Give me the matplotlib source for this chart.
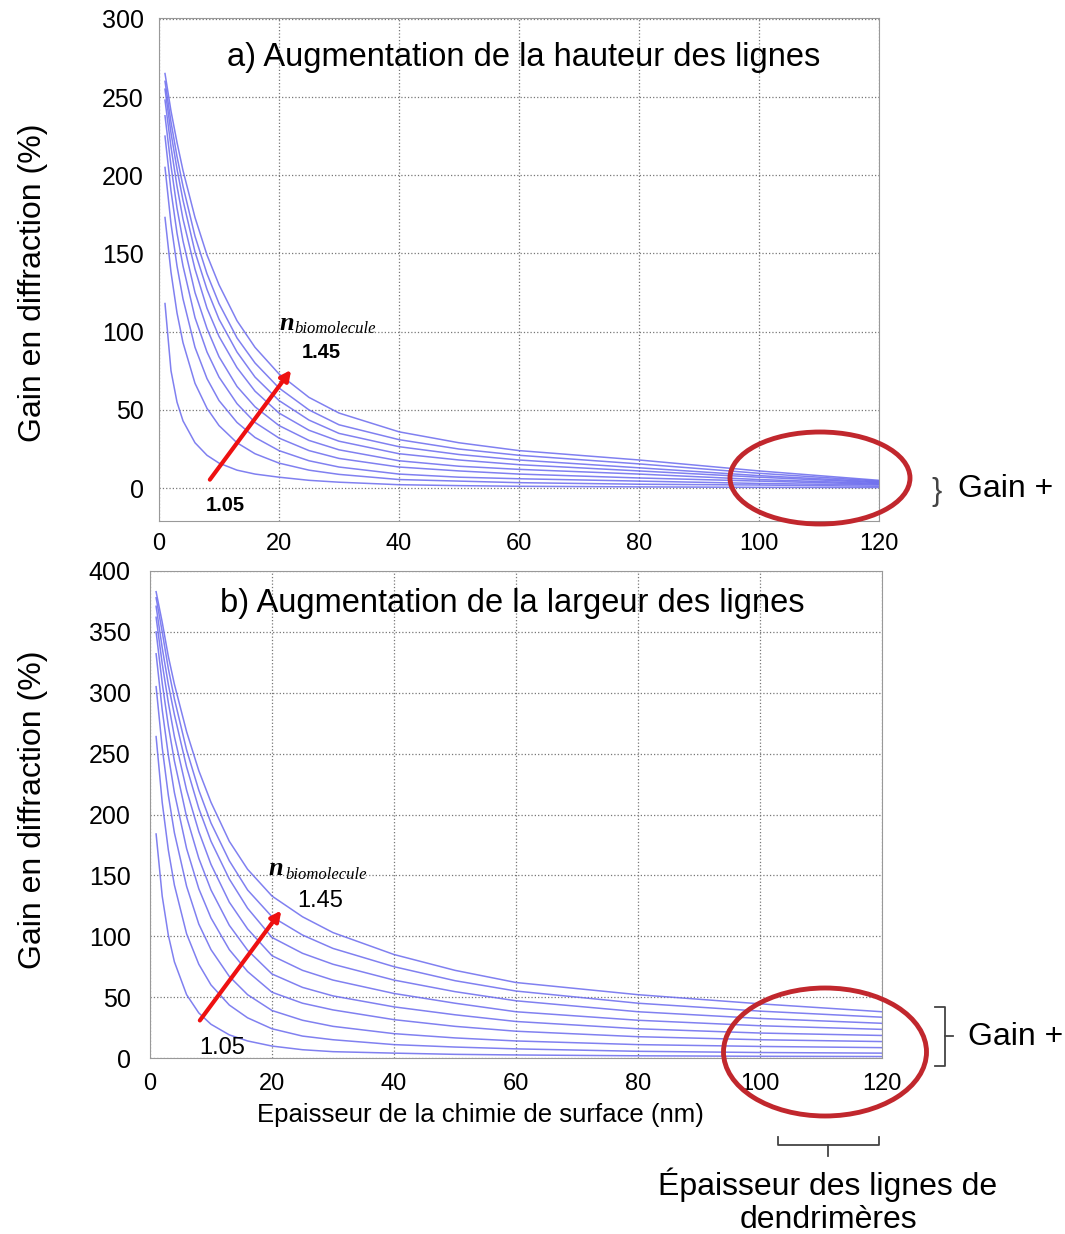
import numpy as np
import matplotlib
matplotlib.use("Agg")
import matplotlib.pyplot as plt
from matplotlib.patches import Ellipse
from matplotlib.lines import Line2D

plt.rcParams['font.family'] = ['Liberation Sans', 'DejaVu Sans']

# thickness of the surface chemistry (nm)
x_nm = [1, 2, 3, 4, 6, 8, 10, 13, 16, 20, 25, 30, 40, 50, 60, 80, 100, 120]
n_bio = [1.05, 1.10, 1.15, 1.20, 1.25, 1.30, 1.35, 1.40, 1.45]

# a) line height increase - gain (%) per refractive index
gain_a_105 = [118, 75, 55, 43, 29, 21, 16, 11.5, 9, 7, 5, 3.8, 2.2, 1.6, 1.2, 0.8, 0.5, 0.4]
gain_a_110 = [173, 138, 112, 93, 67, 51, 40, 29, 22, 16, 11.5, 8.8, 5.5, 4.5, 3.5, 2.5, 2.0, 1.2]
gain_a_115 = [205, 169, 142, 121, 90, 70, 56, 42, 32.4, 24, 17.5, 13.5, 9, 7, 6, 4.5, 3, 2]
gain_a_120 = [225, 190, 163, 142, 109, 87, 71, 54, 42, 32, 24, 19, 13.5, 11, 9, 6.5, 4.5, 2.5]
gain_a_125 = [238, 206, 179, 158, 125, 102, 84, 65, 52, 40, 30.5, 24.5, 17.5, 14, 12, 9, 5.5, 3]
gain_a_130 = [248, 218, 193, 172, 140, 115, 97, 77, 62, 48, 37, 30, 22, 18, 15, 11, 7, 3.5]
gain_a_135 = [255, 227, 204, 184, 151, 127, 108, 87, 71, 56, 43.5, 35, 26.5, 21.5, 18, 13, 8, 4]
gain_a_140 = [260, 234, 212, 193, 161, 137, 118, 96, 80, 64, 50, 40.5, 31, 25, 21, 15.5, 9.5, 4.5]
gain_a_145 = [265, 241, 221, 203, 173, 149, 130, 107, 90, 73, 58, 48, 36, 29, 24, 18, 11, 5]

# b) line width increase
gain_b_105 = [184, 133, 101, 79, 52, 37, 27.7, 19, 14, 9.8, 6.8, 5.2, 4, 3, 2.5, 1.8, 1.4, 1.2]
gain_b_110 = [264, 210, 171, 142, 102, 77, 60, 43.5, 33, 24, 18, 15, 11, 9, 7.5, 5.5, 4.5, 4]
gain_b_115 = [305, 255, 216, 185, 141, 110, 89, 67, 52, 39, 31, 26, 20, 16.5, 14, 11, 9.5, 8.5]
gain_b_120 = [332, 286, 249, 218, 172, 139, 115, 89, 71, 54, 45, 39.5, 31.5, 26, 22, 17.5, 15, 13.5]
gain_b_125 = [350, 308, 273, 244, 198, 164, 138, 109, 88.5, 69, 58, 51, 42, 35.5, 30, 24, 20.5, 18.5]
gain_b_130 = [362, 324, 292, 264, 220, 186, 159, 128, 106, 84, 72, 64, 53, 45, 38, 31, 26.5, 23.5]
gain_b_135 = [371, 337, 307, 282, 239, 205, 178, 147, 123, 99, 86, 77, 64, 54.5, 47, 38, 32.5, 28.5]
gain_b_140 = [378, 350, 320, 295, 253, 220, 193, 162, 138, 116, 101, 90, 75, 63.5, 55, 45, 38.5, 33.5]
gain_b_145 = [383, 358, 330, 307, 268, 236, 210, 178, 155, 133, 116, 103, 85, 72, 62, 52, 44.5, 38]

curves_a = [gain_a_105, gain_a_110, gain_a_115, gain_a_120, gain_a_125,
            gain_a_130, gain_a_135, gain_a_140, gain_a_145]
curves_b = [gain_b_105, gain_b_110, gain_b_115, gain_b_120, gain_b_125,
            gain_b_130, gain_b_135, gain_b_140, gain_b_145]

W, H = 1065, 1234
fig = plt.figure(figsize=(W / 100, H / 100), dpi=100)


def px(x, y):
    return x / W, 1 - y / H


ax1 = fig.add_axes([159 / W, 1 - 521 / H, (879 - 159) / W, (521 - 18) / H])
ax2 = fig.add_axes([150 / W, 1 - 1058 / H, (882 - 150) / W, (1058 - 571) / H])

line_col = '#6a6aee'
for ax, curves in [(ax1, curves_a), (ax2, curves_b)]:
    for c in curves:
        ax.plot(x_nm, c, color=line_col, lw=1.1, alpha=0.85)
    ax.grid(True, ls=':', color='#777777', lw=0.9)
    ax.set_xlim(0, 120)
    ax.set_xticks(range(0, 121, 20))
    for s in ax.spines.values():
        s.set_color('#999999')
    ax.tick_params(length=0)
    ax.tick_params(axis='y', labelsize=18)
    ax.tick_params(axis='x', labelsize=17)

ax1.tick_params(axis='y', pad=11)
ax1.tick_params(axis='x', pad=9)
ax2.tick_params(axis='y', pad=14)
ax2.tick_params(axis='x', pad=11)

ax1.set_ylim(-21, 300.5)
ax1.set_yticks(range(0, 301, 50))
ax2.set_ylim(0, 400)
ax2.set_yticks(range(0, 401, 50))

ax1.text(0.507, 0.922, 'a) Augmentation de la hauteur des lignes',
         transform=ax1.transAxes, ha='center', va='center', fontsize=23.5)
ax2.text(0.495, 0.934, 'b) Augmentation de la largeur des lignes',
         transform=ax2.transAxes, ha='center', va='center', fontsize=23.5)

for ax in (ax1, ax2):
    ax.set_ylabel('Gain en diffraction (%)', fontsize=23)
ax1.yaxis.set_label_coords(-0.154, 0.473)
ax2.yaxis.set_label_coords(-0.139, 0.509)
ax2.set_xlabel('Epaisseur de la chimie de surface (nm)', fontsize=18.5)
ax2.xaxis.set_label_coords(0.452, -0.092)

# red arrows + index labels
ax1.annotate('', xy=(22.3, 77), xytext=(8.2, 4),
             arrowprops=dict(arrowstyle='-|>,head_length=0.6,head_width=0.3',
                             color='#ee1111', lw=3))
ax1.text(11, -11, str(n_bio[0]), fontsize=14.5, fontweight='bold', ha='center', va='center')
ax1.text(27, 87, str(n_bio[-1]), fontsize=14.5, fontweight='bold', ha='center', va='center')
ax1.text(20, 101, 'n', fontsize=19, fontweight='bold', style='italic',
         family='Liberation Serif', ha='left', va='baseline')
ax1.text(22.6, 99, 'biomolecule', fontsize=12, style='italic',
         family='Liberation Serif', ha='left', va='baseline')

ax2.annotate('', xy=(21.8, 123), xytext=(7.9, 29),
             arrowprops=dict(arrowstyle='-|>,head_length=0.6,head_width=0.3',
                             color='#ee1111', lw=3))
ax2.text(11.8, 8, str(n_bio[0]), fontsize=17, ha='center', va='center')
ax2.text(27.9, 129, str(n_bio[-1]), fontsize=17, ha='center', va='center')
ax2.text(19.5, 150, 'n', fontsize=19, fontweight='bold', style='italic',
         family='Liberation Serif', ha='left', va='baseline')
ax2.text(22.2, 147, 'biomolecule', fontsize=12, style='italic',
         family='Liberation Serif', ha='left', va='baseline')

# red ellipses around the 100-120 nm region
for cx, cy, w, h in [(820, 478, 180, 92), (825, 1052, 203, 128)]:
    fig.patches.append(Ellipse(px(cx, cy), w / W, h / H, transform=fig.transFigure,
                               fill=False, ec='#c1272d', lw=3.5))

# brackets
br = '#444444'
fig.text(*px(937, 492), '}', fontsize=22, color=br, ha='center', va='center')
fig.text(*px(958, 489), 'Gain +', fontsize=23, ha='left', va='center')

for xs, ys in [([935, 945, 945, 935], [1007, 1007, 1066, 1066]),
               ([945, 953], [1036, 1036]),
               ([778, 778, 879, 879], [1137, 1145, 1145, 1137]),
               ([828, 828], [1145, 1156])]:
    pts = [px(a, b) for a, b in zip(xs, ys)]
    fig.lines.append(Line2D([p[0] for p in pts], [p[1] for p in pts],
                            transform=fig.transFigure, color=br, lw=1.3))
fig.text(*px(968, 1037), 'Gain +', fontsize=23, ha='left', va='center')
fig.text(*px(828, 1185), 'Épaisseur des lignes de', fontsize=23, ha='center', va='center')
fig.text(*px(828, 1220), 'dendrimères', fontsize=23, ha='center', va='center')

fig.savefig('out.png', dpi=100)
